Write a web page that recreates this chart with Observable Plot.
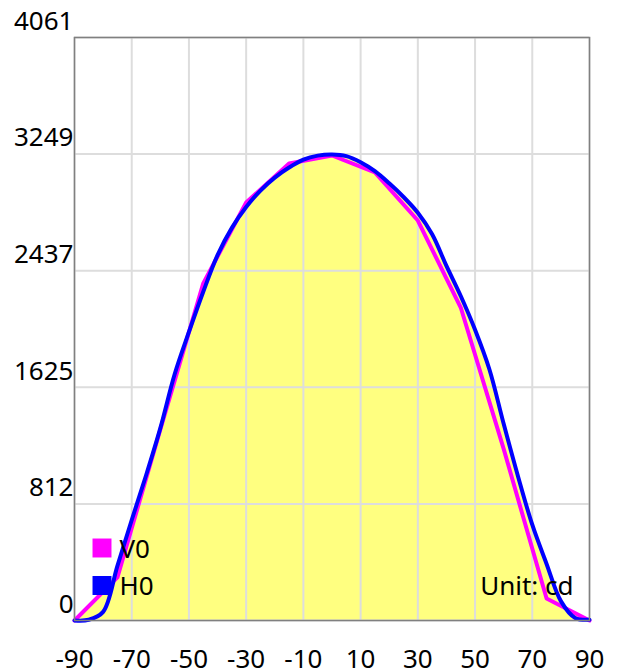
<!DOCTYPE html>
<html>
<head>
<meta charset="utf-8">
<script src="https://cdn.jsdelivr.net/npm/d3@7"></script>
<script src="https://cdn.jsdelivr.net/npm/@observablehq/plot@0.6"></script>
<style>
  html, body { margin: 0; padding: 0; background: #fff; }
  #chart svg { display: block; }
</style>
</head>
<body>
<div id="chart"></div>
<script>
// V0 series (vertical plane), every 15 degrees
const v0Angles = [-90, -75, -60, -45, -30, -15, 0, 15, 30, 45, 60, 75, 90];
const v0Values = [0, 300, 1330, 2348, 2912, 3183, 3239, 3121, 2786, 2180, 1195, 153, 0];

// H0 series (horizontal plane), every 5 degrees
const h0Angles = [-90, -85, -80, -75, -70, -65, -60, -55, -50, -45, -40, -35, -30, -25, -20, -15, -10, -5,
                  0, 5, 10, 15, 20, 25, 30, 35, 40, 45, 50, 55, 60, 65, 70, 75, 80, 85, 90];
const h0Values = [0, 5, 60, 380, 700, 1010, 1340, 1715, 2010, 2290, 2545, 2735, 2880, 2995, 3085, 3155, 3210, 3238,
                  3246, 3235, 3192, 3130, 3045, 2950, 2840, 2690, 2470, 2260, 2025, 1750, 1370, 1005, 667, 394, 135, 18, 5];

const xTicks = [-90, -70, -50, -30, -10, 10, 30, 50, 70, 90];
const yTicks = [0, 812, 1625, 2437, 3249, 4061];

const legendNames = ["V0", "H0"];
const legendColors = ["#ff00ff", "#0000ff"];
const unitLabel = ["Unit: cd"];

const v0 = v0Angles.map((a, i) => ({angle: a, value: v0Values[i]}));
const h0 = h0Angles.map((a, i) => ({angle: a, value: h0Values[i]}));
const legend = legendNames.map((n, i) => ({name: n, color: legendColors[i], row: i}));

const fontSize = 26;
const rowGap = 37.5;

const chart = Plot.plot({
  width: 619,
  height: 671,
  marginLeft: 74,
  marginRight: 30,
  marginTop: 37,
  marginBottom: 51,
  style: {fontFamily: "'Noto Sans', 'Open Sans', sans-serif", fontSize: fontSize + "px", color: "#000", background: "#fff", overflow: "visible"},
  x: {domain: [-90, 90], ticks: xTicks, label: null},
  y: {domain: [0, 4061], ticks: yTicks, label: null},
  marks: [
    Plot.areaY(v0, {x: "angle", y: "value", fill: "#ffff80", curve: "linear"}),
    Plot.areaY(h0, {x: "angle", y: "value", fill: "#ffff80", curve: "catmull-rom"}),
    Plot.ruleX(xTicks, {stroke: "#dddddd", strokeWidth: 2}),
    Plot.ruleY(yTicks, {stroke: "#dddddd", strokeWidth: 2}),
    Plot.line(v0, {x: "angle", y: "value", stroke: legendColors[0], strokeWidth: 4, curve: "linear", strokeLinejoin: "round"}),
    Plot.line(h0, {x: "angle", y: "value", stroke: legendColors[1], strokeWidth: 4, curve: "catmull-rom", strokeLinejoin: "round"}),
    Plot.frame({stroke: "#808080", strokeWidth: 1.5}),
    Plot.axisX(xTicks, {tickSize: 0, tickPadding: 29, fontSize: fontSize, fill: "#000", label: null, tickFormat: d => String(d)}),
    Plot.axisY(yTicks, {tickSize: 0, tickPadding: 1, dy: -16, fontSize: fontSize, fill: "#000", label: null, tickFormat: d => String(d)}),
    // legend swatches
    Plot.dot(legend.filter(d => d.row === 0), {frameAnchor: "bottom-left", dx: 27.5, dy: -72.5, symbol: "square", r: 10.7, fill: "color"}),
    Plot.dot(legend.filter(d => d.row === 1), {frameAnchor: "bottom-left", dx: 27.5, dy: -72.5 + rowGap, symbol: "square", r: 10.7, fill: "color"}),
    // legend labels
    Plot.text(legend.filter(d => d.row === 0), {text: "name", frameAnchor: "bottom-left", dx: 45, dy: -71, textAnchor: "start", lineAnchor: "middle", fontSize: fontSize, fill: "#000"}),
    Plot.text(legend.filter(d => d.row === 1), {text: "name", frameAnchor: "bottom-left", dx: 45, dy: -71 + rowGap, textAnchor: "start", lineAnchor: "middle", fontSize: fontSize, fill: "#000"}),
    // unit label
    Plot.text(unitLabel, {text: d => d, frameAnchor: "bottom-right", dx: -16, dy: -34, textAnchor: "end", lineAnchor: "middle", fontSize: fontSize, fill: "#000"})
  ]
});
document.getElementById("chart").appendChild(chart);
</script>
</body>
</html>
